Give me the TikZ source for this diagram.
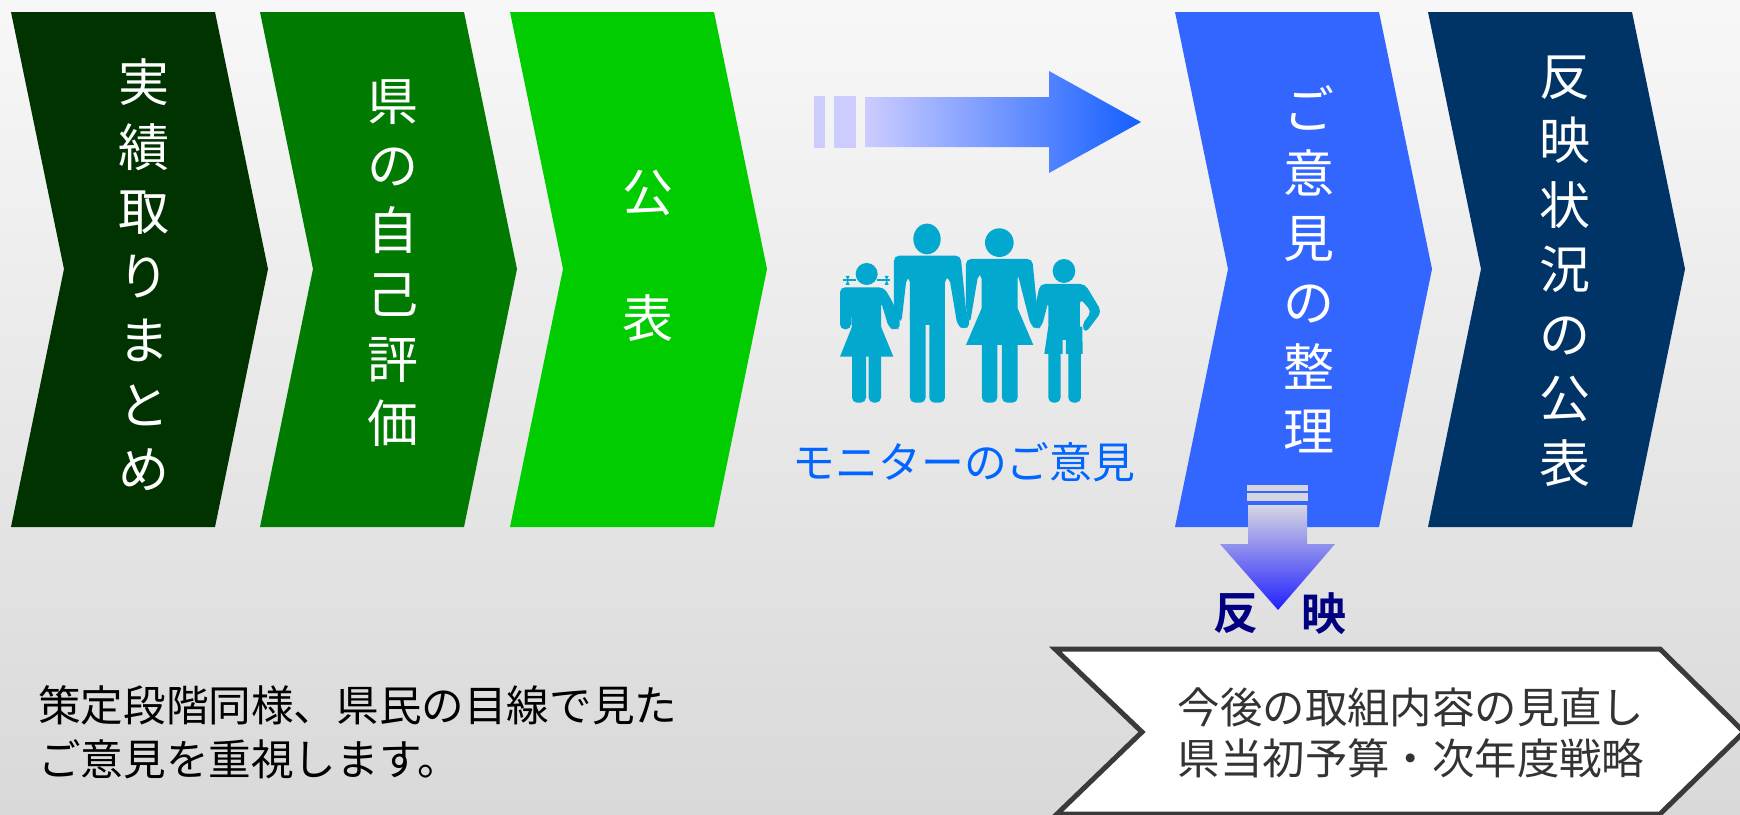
\documentclass[tikz,border=0pt]{standalone}
\usepackage{fontspec}
\setmainfont{Noto Sans CJK JP}[BoldFont={Noto Sans CJK JP Bold}]
\definecolor{stepdark}{HTML}{003300}
\definecolor{stepgreen}{HTML}{007A00}
\definecolor{steplime}{HTML}{00CC00}
\definecolor{stepblue}{HTML}{3366FF}
\definecolor{stepnavy}{HTML}{003366}
\definecolor{people}{HTML}{03A8CE}
\definecolor{barlight}{HTML}{CCCCFF}
\definecolor{bargrey}{HTML}{D6D6E2}
\definecolor{tipblue}{HTML}{145FFF}
\definecolor{tipdeep}{HTML}{2020FF}
\definecolor{labelblue}{HTML}{0066FF}
\definecolor{labelnavy}{HTML}{000080}
\definecolor{framegrey}{HTML}{3A3A3A}
\definecolor{textgrey}{HTML}{333333}
\tikzset{
    vlabel/.style = {white, align=center, inner sep=0pt, font=\fontsize{51}{64.5}\selectfont},
    heavy/.style = {labelnavy, inner sep=0pt, font=\bfseries\fontsize{45}{50}\selectfont},
    note/.style = {black, align=left, anchor=west, inner sep=0pt, font=\fontsize{42.6}{54}\selectfont},
    person/.style = {fill=people, rounded corners=5pt}
}
\begin{document}
\begin{tikzpicture}[x=1pt,y=-1pt]
    \useasboundingbox (0,0) rectangle (1740,814);
    \shade [top color=black!3,bottom color=black!15] (0,0) rectangle (1740,814);

    \foreach \px/\pc in {11/stepdark,260/stepgreen,510/steplime,1175/stepblue,1428/stepnavy}
        \fill [\pc] (\px,12) -- ++(204,0) -- ++(53,257) -- ++(-53,258) -- ++(-204,0) -- ++(53,-258) -- cycle;

    \node [vlabel] (jisseki) at (144,275) {実\\績\\取\\り\\ま\\と\\め};
    \node [vlabel] (hyouka) at (393,263) {県\\の\\自\\己\\評\\価};
    \node [vlabel] (kou) at (648,193) {公};
    \node [vlabel] (hyou) at (648,318) {表};
    \node [vlabel] (seiri) at (1309,269) {ご\\意\\見\\の\\整\\理};
    \node [vlabel] (hanei) at (1565,271) {反\\映\\状\\況\\の\\公\\表};

    % arrow to the right
    \fill [barlight] (814,96) rectangle (825,148);
    \fill [barlight] (834,96) rectangle (856,148);
    \shade [left color=barlight,right color=tipblue]
        (865,97) -- (1049,97) -- (1049,71) -- (1141,122) -- (1049,173) -- (1049,147) -- (865,147) -- cycle;

    % arrow down
    \fill [bargrey] (1247,485) rectangle (1308,491);
    \fill [bargrey] (1247,493) rectangle (1308,501);
    \shade [top color=bargrey,bottom color=tipdeep]
        (1248,505) -- (1307,505) -- (1307,544) -- (1335,544) -- (1278,610) -- (1220,544) -- (1248,544) -- cycle;

    % family
    \begin{scope}[shift={(780,40)},x=0.3333pt,y=-0.3333pt]
        \foreach \la/\lb/\lt in {216/258/930,266/303/930,390/437/800,448/495/800,606/652/890,666/713/890,805/842/920,865/903/920}
            \fill [person] (\la,\lt) rectangle (\lb,1088);
        % girl
        \fill [people] (260,702) circle [radius=33];
        \fill [person] (180,868) -- (180,742) -- (312,742) -- (340,790) -- (364,860) -- (345,872) -- (326,862) -- (303,785)
            -- (303,880) -- (216,880) -- (213,785) -- (213,868) -- cycle;
        \fill [people] (216,860) -- (303,860) -- (340,950) -- (180,950) -- cycle;
        \draw [people, line width=2pt] (188,721) -- (228,721) (292,721) -- (330,721);
        \fill [people] (197,708) -- (209,708) -- (203,720) -- (209,735) -- (197,735) -- (203,720) -- cycle;
        \fill [people] (314,708) -- (326,708) -- (320,720) -- (326,735) -- (314,735) -- (320,720) -- cycle;
        % man
        \fill [people] (441,597) ellipse [x radius=41, y radius=46];
        \fill [person] (342,810) -- (342,647) -- (542,647) -- (558,810) -- (572,855) -- (552,870) -- (532,855) -- (508,712)
            -- (495,712) -- (495,855) -- (390,855) -- (390,712)
            -- (380,712) -- (364,850) -- (345,830) -- cycle;
        % woman
        \fill [people] (658,608) circle [radius=43];
        \fill [person] (558,810) -- (558,657) -- (757,657) -- (772,810) -- (788,855) -- (770,870) -- (752,855) -- (713,702)
            -- (713,850) -- (605,850) -- (605,702) -- (595,702) -- (570,850) -- cycle;
        \fill [people] (605,805) -- (713,805) -- (760,915) -- (558,915) -- cycle;
        % boy
        \fill [people] (852,693) ellipse [x radius=34, y radius=36];
        \fill [person] (755,850) -- (780,732) -- (915,732) -- (965,815) -- (916,880) -- (905,855) -- (935,815) -- (900,775)
            -- (900,880) -- (805,880) -- (805,785)
            -- (786,858) -- (770,870) -- cycle;
        \fill [people] (805,860) -- (907,860) -- (908,942) -- (858,942) -- (858,900) -- (848,900) -- (848,942) -- (793,942) -- cycle;
    \end{scope}

    \node [inner sep=0pt, font=\fontsize{42.8}{50}\selectfont, text=labelblue] (monitor) at (964,462) {モニターのご意見};

    \node [heavy] (han) at (1236,614) {反};
    \node [heavy] (ei) at (1324,614) {映};

    \node [note] (juushi) at (38,732) {策定段階同様、県民の目線で見た\\ご意見を重視します。};

    \draw [line width=5pt, fill=white, draw=framegrey, miter limit=10]
        (1055,649) -- (1660,649) -- (1744,732) -- (1660,814) -- (1057,814) -- (1142,732) -- cycle;
    \node [inner sep=0pt, align=center, font=\fontsize{42.4}{51}\selectfont, text=textgrey] (torikumi) at (1411,733) {今後の取組内容の見直し\\県当初予算・次年度戦略};
\end{tikzpicture}
\end{document}
